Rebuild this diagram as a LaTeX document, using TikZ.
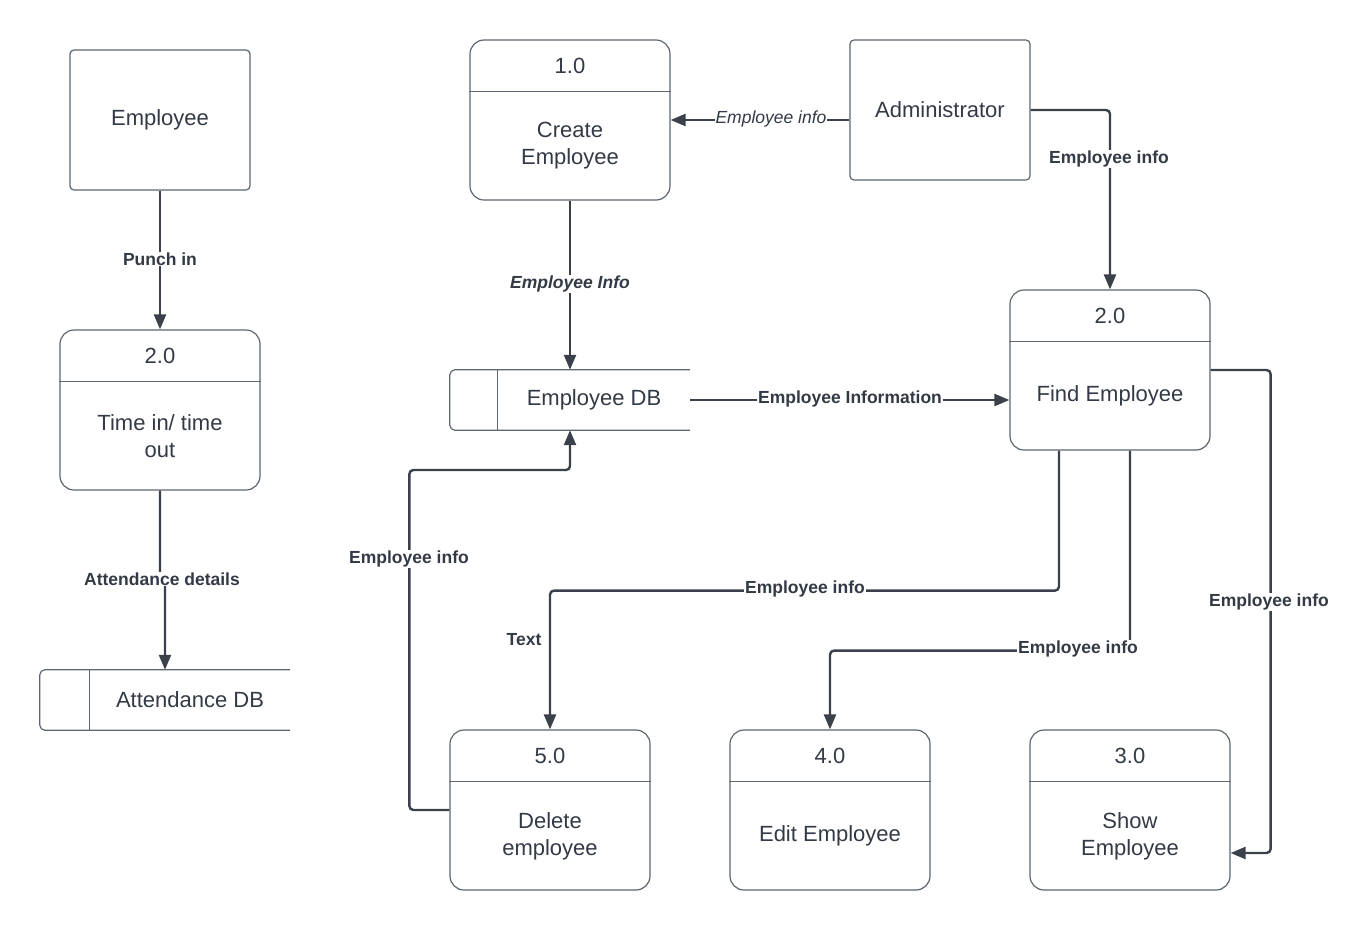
\documentclass[tikz,border=0pt]{standalone}
\usepackage{fontspec}
\setmainfont{Liberation Sans}
\usetikzlibrary{arrows.meta,calc}
\definecolor{ink}{HTML}{3A414A}
\definecolor{edgec}{HTML}{5E6670}
\definecolor{txt}{HTML}{333A45}
\begin{document}
\begin{tikzpicture}[x=1pt,y=-1pt,
  every node/.style={text=txt},
  boxline/.style={draw=edgec,line width=1.2pt},
  proc/.style={boxline,rounded corners=14pt,minimum width=200pt,minimum height=160pt,inner sep=0pt},
  entity/.style={boxline,rounded corners=4pt,minimum width=180pt,minimum height=140pt,inner sep=0pt},
  store/.style={minimum width=240pt,minimum height=60pt,inner sep=0pt},
  main/.style={font=\fontsize{22}{27}\selectfont,align=center,inner sep=0pt,yshift=-3pt},
  flow/.style={draw=ink,line width=2.4pt,rounded corners=4pt,-{Triangle[length=15pt,width=12pt]}},
  lbl/.style={font=\fontsize{17.5}{20}\selectfont\bfseries,fill=white,inner sep=1pt,yshift=-2pt},
  ilbl/.style={font=\fontsize{17.5}{20}\selectfont\itshape,fill=white,inner sep=1pt,yshift=-2pt},
]
\useasboundingbox (0,0) rectangle (1371,930);

% ---------- attendance side ----------
\node[entity] (emp) at (160,120) {};
\node[main] (empt) at (160,117) {Employee};

\node[proc] (tio) at (160,410) {};
\draw[boxline] ($(tio.north west)+(0,52)$) -- ($(tio.north east)+(0,52)$);
\node[main] (tion) at (160,353) {2.0};
\node[main] (tiot) at (160,433) {Time in/ time\\out};

\node[store,minimum width=250pt] (adb) at (165,700) {};
\draw[boxline,rounded corners=5pt] (adb.north east) -- (adb.north west) -- (adb.south west) -- (adb.south east);
\draw[boxline] ($(adb.north west)+(50,0)$) -- ($(adb.south west)+(50,0)$);
\node[main] (adbt) at (190,697) {Attendance DB};

\draw[flow] (emp.south) -- (tio.north);
\node[lbl] (l1) at (160,257) {Punch in};
\draw[flow] (tio.south) -- ++(0,87) -| (adb.north);
\node[lbl] (l2) at (162,577) {Attendance details};

% ---------- employee management ----------
\node[proc] (p1) at (570,120) {};
\draw[boxline] ($(p1.north west)+(0,52)$) -- ($(p1.north east)+(0,52)$);
\node[main] (p1n) at (570,63) {1.0};
\node[main] (p1t) at (570,143) {Create\\Employee};

\node[entity] (adm) at (940,110) {};
\node[main] (admt) at (940,107) {Administrator};

\node[store] (edb) at (570,400) {};
\draw[boxline,rounded corners=5pt] (edb.north east) -- (edb.north west) -- (edb.south west) -- (edb.south east);
\draw[boxline] ($(edb.north west)+(48,0)$) -- ($(edb.south west)+(48,0)$);
\node[main] (edbt) at (594,397) {Employee DB};

\node[proc] (find) at (1110,370) {};
\draw[boxline] ($(find.north west)+(0,52)$) -- ($(find.north east)+(0,52)$);
\node[main] (findn) at (1110,313) {2.0};
\node[main] (findt) at (1110,393) {Find Employee};

\node[proc] (del) at (550,810) {};
\draw[boxline] ($(del.north west)+(0,52)$) -- ($(del.north east)+(0,52)$);
\node[main] (deln) at (550,753) {5.0};
\node[main] (delt) at (550,833) {Delete\\employee};

\node[proc] (edit) at (830,810) {};
\draw[boxline] ($(edit.north west)+(0,52)$) -- ($(edit.north east)+(0,52)$);
\node[main] (editn) at (830,753) {4.0};
\node[main] (editt) at (830,833) {Edit Employee};

\node[proc] (show) at (1130,810) {};
\draw[boxline] ($(show.north west)+(0,52)$) -- ($(show.north east)+(0,52)$);
\node[main] (shown) at (1130,753) {3.0};
\node[main] (showt) at (1130,833) {Show\\Employee};

% flows
\draw[flow] (adm.west |- p1.east) -- (p1.east);
\node[ilbl] (l3) at (771,117) {Employee info};

\draw[flow] (adm.east) -| (find.north);
\node[lbl] (l4) at (1109,157) {Employee info};

\draw[flow] (p1.south) -- (edb.north);
\node[lbl,font=\fontsize{17.5}{20}\selectfont\bfseries\itshape] (l5) at (570,282) {Employee Info};

\draw[flow] (edb.east) -- (edb.east -| find.west);
\node[lbl] (l6) at (850,397) {Employee Information};

\draw[flow] (del.west) -- ++(-40,0) -- ++(0,-340) -| (edb.south);
\node[lbl] (l7) at (409,557) {Employee info};

\draw[flow] ($(find.south)+(-51,0)$) -- ++(0,140) -| (del.north);
\node[lbl] (l8) at (805,587) {Employee info};
\node[lbl,fill=none] (l9) at (524,638) {Text};

\draw[flow] ($(find.south)+(20,0)$) -- ++(0,200) -| (edit.north);
\node[lbl] (l10) at (1078,647) {Employee info};

\draw[flow] (find.east) -- ++(60,0) |- ($(show.east)+(0,43)$);
\node[lbl] (l11) at (1269,600) {Employee info};
\end{tikzpicture}
\end{document}
